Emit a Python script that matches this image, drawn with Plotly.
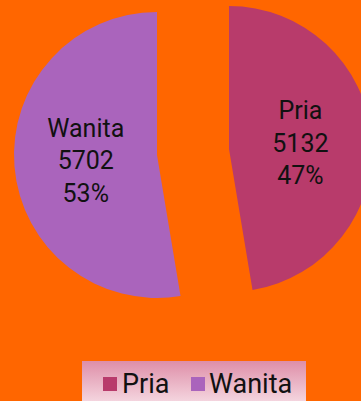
import base64
import plotly.graph_objects as go

# Respondents by gender
labels = ["Pria", "Wanita"]
counts = [5132, 5702]
colors = ["#B83B6B", "#AA64BC"]

W, H = 380, 401          # page is wider than the viewport; the extra strip is clipped
BG = "#FF6600"
FONT = "Roboto"
R = 143                  # slice radius in px
# each slice is drawn by its own trace, with its own centre (exploded look)
centres = {"Pria": (229, 149), "Wanita": (157, 155)}

fig = go.Figure()
for k, lab in enumerate(labels):
    cx, cy = centres[lab]
    slice_colors = [c if i == k else "rgba(0,0,0,0)" for i, c in enumerate(colors)]
    templates = ["%{label}<br>%{value}<br>%{percent:.0%}" if i == k else "" for i in range(len(labels))]
    fig.add_trace(go.Pie(
        labels=labels,
        values=counts,
        sort=False,
        direction="clockwise",
        rotation=0,
        marker=dict(colors=slice_colors, line=dict(width=0)),
        texttemplate=templates,
        textposition="inside",
        insidetextorientation="horizontal",
        textfont=dict(family=FONT, size=25, color="#111111"),
        showlegend=False,
        hoverinfo="skip",
        domain=dict(x=[(cx - R) / W, (cx + R) / W],
                    y=[(H - cy - R) / H, (H - cy + R) / H]),
    ))

# legend panel with a soft pink vertical gradient
lx0, ly0, lx1, ly1 = 82, 361, 306, 401
svg = (
    f'<svg xmlns="http://www.w3.org/2000/svg" width="{lx1-lx0}" height="{ly1-ly0}" '
    f'preserveAspectRatio="none"><defs><linearGradient id="g" x1="0" y1="0" x2="0" y2="1">'
    f'<stop offset="0" stop-color="#DE8EA8"/><stop offset="1" stop-color="#F4D4DE"/>'
    f'</linearGradient></defs><rect width="{lx1-lx0}" height="{ly1-ly0}" fill="url(#g)"/></svg>'
)
src = "data:image/svg+xml;base64," + base64.b64encode(svg.encode()).decode()
fig.add_layout_image(dict(
    source=src, xref="paper", yref="paper",
    x=lx0 / W, y=(H - ly0) / H, sizex=(lx1 - lx0) / W, sizey=(ly1 - ly0) / H,
    xanchor="left", yanchor="top", sizing="stretch", layer="below",
))

# legend entries: swatch + label
swatch_x = [103, 191]
text_x = [120, 207]
sw, ymid = 14, 384
for lab, col, sx, tx in zip(labels, colors, swatch_x, text_x):
    fig.add_shape(type="rect", xref="paper", yref="paper",
                  x0=sx / W, x1=(sx + sw) / W,
                  y0=(H - ymid - sw / 2) / H, y1=(H - ymid + sw / 2) / H,
                  fillcolor=col, line=dict(width=0))
    fig.add_annotation(text=lab, xref="paper", yref="paper",
                       x=tx / W, y=(H - ymid) / H, xanchor="left", yanchor="middle",
                       showarrow=False, font=dict(family=FONT, size=27, color="#111111"))

fig.update_layout(
    width=W, height=H,
    margin=dict(l=0, r=0, t=0, b=0),
    paper_bgcolor=BG,
    plot_bgcolor=BG,
)

fig.write_html(
    "out.html",
    post_script="document.documentElement.style.overflow='hidden';"
                "document.body.style.overflow='hidden';",
)
